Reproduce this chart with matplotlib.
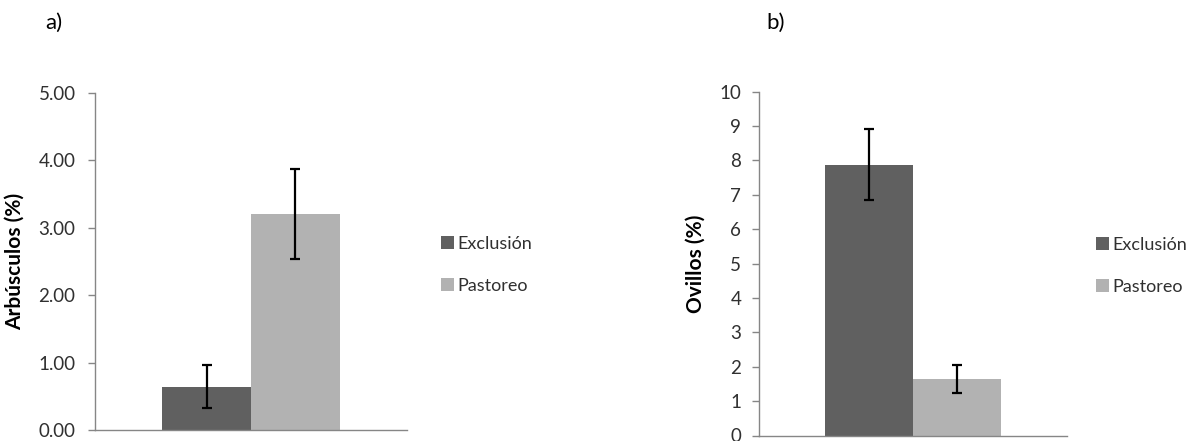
import matplotlib
matplotlib.use("Agg")
import matplotlib.pyplot as plt
from matplotlib.patches import Patch

plt.rcParams['font.family'] = ['Lato', 'DejaVu Sans']

# Data
series = ["Exclusión", "Pastoreo"]
colors = ["#606060", "#b2b2b2"]

arbusculos = [0.64, 3.20]
arbusculos_err = [0.32, 0.67]
arb_ticks = [0, 1, 2, 3, 4, 5]
arb_ticklabels = ["0.00", "1.00", "2.00", "3.00", "4.00", "5.00"]

ovillos = [7.88, 1.65]
ovillos_err = [1.03, 0.40]
ovi_ticks = list(range(0, 11))
ovi_ticklabels = [str(t) for t in ovi_ticks]

W, H = 1188, 441
fig = plt.figure(figsize=(W / 100, H / 100), dpi=100)

spine_col = "#868686"
tick_col = "#303030"
bar_w = 0.285


def panel(rect, values, errs, ticks, ticklabels, ylim, ylabel, pad):
    ax = fig.add_axes(rect)
    offsets = [-bar_w / 2, bar_w / 2]
    for off, v, e, c in zip(offsets, values, errs, colors):
        ax.bar(off, v, width=bar_w, color=c, zorder=2)
        ax.errorbar(off, v, yerr=e, fmt="none", ecolor="black",
                    elinewidth=1.6, capsize=3.5, capthick=1.6, zorder=3)
    ax.set_xlim(-0.5, 0.5)
    ax.set_ylim(*ylim)
    ax.set_yticks(ticks)
    ax.set_yticklabels(ticklabels)
    ax.set_xticks([])
    for s in ("top", "right"):
        ax.spines[s].set_visible(False)
    for s in ("left", "bottom"):
        ax.spines[s].set_color(spine_col)
        ax.spines[s].set_linewidth(1.0)
    ax.tick_params(axis="y", direction="out", length=5, width=1.0,
                   color=spine_col, labelcolor=tick_col, labelsize=13.5,
                   pad=pad)
    ax.set_ylabel(ylabel, fontsize=15, fontweight="bold", color="black")
    return ax


ax1 = panel([95 / W, 1 - 430 / H, 312 / W, 337 / H],
            arbusculos, arbusculos_err, arb_ticks, arb_ticklabels,
            (0, 5), "Arbúsculos (%)", 9)
ax1.yaxis.set_label_coords(-0.225, 0.5)

ax2 = panel([759.3 / W, 1 - 435.5 / H, 307.4 / W, 343.8 / H],
            ovillos, ovillos_err, ovi_ticks, ovi_ticklabels,
            (0, 10), "Ovillos (%)", 8)
ax2.yaxis.set_label_coords(-0.175, 0.5)

handles = [Patch(facecolor=c, edgecolor="none") for c in colors]
for anchor in [(441 / W, 1 - 265 / H), (1096 / W, 1 - 266 / H)]:
    fig.legend(handles, series, loc="center left", bbox_to_anchor=anchor,
               frameon=False, fontsize=13, handlelength=0.7,
               handleheight=0.7, handletextpad=0.2, labelspacing=1.45,
               borderpad=0, borderaxespad=0, labelcolor=tick_col)

fig.text(45 / W, 1 - 23 / H, "a)", fontsize=16, va="center", ha="left")
fig.text(766 / W, 1 - 23 / H, "b)", fontsize=16, va="center", ha="left")

fig.savefig("out.png", dpi=100)
